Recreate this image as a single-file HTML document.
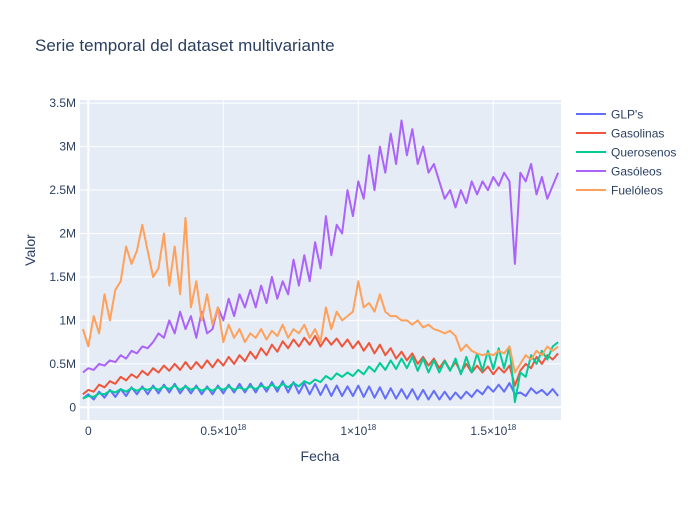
<!DOCTYPE html>
<html><head><meta charset="utf-8"><style>
body{margin:0;background:#fff;}
svg text{font-family:"Liberation Sans",Arial,sans-serif;fill:#2a3f5f;}
</style></head><body>
<svg id="chart" width="700" height="500" xmlns="http://www.w3.org/2000/svg">
<rect width="700" height="500" fill="#fff"/>
<text x="35" y="51" font-size="17">Serie temporal del dataset multivariante</text>
<rect x="80" y="100" width="481" height="320" fill="#e5ecf6"/>
<g id="grid"></g>
<g id="series"></g>
<g id="axes"></g>
<text x="320" y="461" font-size="14" text-anchor="middle">Fecha</text>
<text x="30" y="255" font-size="14" text-anchor="middle" transform="rotate(-90 30 250)">Valor</text>
<g id="legend"></g>
</svg>
<script>
const dates = [-2,0,2,4,6,8,10,12,14,16,18,20,22,24,26,28,30,32,34,36,38,40,42,44,46,48,50,52,54,56,58,60,62,64,66,68,70,72,74,76,78,80,82,84,86,88,90,92,94,96,98,100,102,104,106,108,110,112,114,116,118,120,122,124,126,128,130,132,134,136,138,140,142,144,146,148,150,152,154,156,158,160,162,164,166,168,170,172,174];
const glp = [100,150,90,180,110,200,120,210,130,230,150,240,150,250,160,260,170,270,160,250,160,250,150,240,150,250,160,260,170,270,170,270,170,280,180,290,180,300,170,290,160,280,150,270,140,260,130,250,130,240,130,250,120,240,110,230,100,220,100,210,100,210,90,200,90,190,90,180,90,170,100,180,120,200,150,240,180,260,180,280,150,170,130,220,160,200,140,210,130];
const gasolinas = [150,200,180,260,230,300,270,350,310,380,340,420,370,450,400,480,420,500,430,520,440,520,450,540,460,550,480,580,500,600,530,640,560,680,600,720,640,760,680,780,700,800,720,820,700,800,720,790,700,780,680,760,650,740,620,720,600,680,560,640,540,620,500,580,480,560,450,540,430,520,400,500,400,480,400,470,380,460,400,480,250,420,500,450,580,500,600,550,620];
const querosenos = [100,130,120,160,150,190,170,210,180,220,190,220,200,230,200,240,210,250,200,240,200,230,190,220,190,230,200,240,200,230,200,240,210,250,220,260,220,270,230,280,240,300,270,320,290,360,320,390,350,400,360,430,380,470,410,510,430,540,440,560,450,580,420,560,400,540,400,530,420,560,380,580,400,620,420,650,440,680,450,700,60,400,350,600,500,650,550,700,750];
const gasoleos = [400,450,430,500,480,540,520,600,560,650,620,700,680,750,850,800,1000,850,1100,900,1050,800,1100,850,900,1150,1000,1250,1050,1300,1150,1350,1150,1400,1200,1500,1250,1450,1300,1700,1400,1750,1450,1900,1600,2200,1750,2100,2000,2500,2200,2600,2400,2900,2500,3000,2700,3150,2800,3300,2900,3200,2800,3000,2700,2800,2600,2400,2500,2300,2500,2350,2600,2450,2600,2500,2650,2550,2700,2600,1650,2700,2600,2800,2450,2650,2400,2550,2700];
const fueloleos = [900,700,1050,850,1300,1000,1350,1450,1850,1650,1800,2100,1800,1500,1600,2000,1400,1850,1300,2180,1150,1450,1000,1300,950,1150,750,950,800,900,750,850,800,900,780,880,820,950,800,900,850,950,800,900,750,1150,900,1100,1000,1050,1100,1450,1150,1200,1100,1300,1100,1050,1050,1000,1000,950,1000,920,950,900,880,850,880,820,650,720,650,620,600,620,600,650,620,700,400,500,600,550,650,600,700,650,700];
const seriesNames = ["GLP's","Gasolinas","Querosenos","Gasóleos","Fuelóleos"];
const seriesColors = ["#636efa","#EF553B","#00cc96","#ab63fa","#FFA15A"];
const yTickVals = [0,500,1000,1500,2000,2500,3000,3500];
const yTickLabels = ["0","0.5M","1M","1.5M","2M","2.5M","3M","3.5M"];
const xTickVals = [0,50,100,150];
const xTickMant = ["0","0.5×10","1×10","1.5×10"];

const NS="http://www.w3.org/2000/svg";
const X0=88.3, XS=2.7;
const Y0=407.3, YS=0.0869;
const xs=v=>X0+v*XS, ys=v=>Y0-v*YS;
function mk(tag,attrs,parent){const e=document.createElementNS(NS,tag);for(const k in attrs)e.setAttribute(k,attrs[k]);parent.appendChild(e);return e;}
const grid=document.getElementById('grid'), axes=document.getElementById('axes');
yTickVals.forEach((v,i)=>{
  const l=mk('line',{x1:80,x2:561,y1:ys(v),y2:ys(v),stroke:'#fff','stroke-width':v===0?2:1},grid);
  
  
  const t=mk('text',{x:76,y:ys(v)+4,'font-size':12,'text-anchor':'end'},axes);
  t.textContent=yTickLabels[i];
  
  
});
xTickVals.forEach((v,i)=>{
  const l=mk('line',{x1:xs(v),x2:xs(v),y1:100,y2:420,stroke:'#fff','stroke-width':v===0?2:1},grid);
  
  
  const t=mk('text',{x:xs(v),y:435,'font-size':12,'text-anchor':'middle'},axes);
  
  
  t.appendChild(document.createTextNode(xTickMant[i]));
  if(i>0){const s=mk('tspan',{'font-size':8,dy:-5},t);s.textContent='18';}
});
const sg=document.getElementById('series');
[glp,gasolinas,querosenos,gasoleos,fueloleos].forEach((arr,k)=>{
  const d=arr.map((v,i)=>(i?'L':'M')+xs(dates[i]).toFixed(1)+','+ys(v).toFixed(1)).join('');
  const p=mk('path',{d:d,fill:'none',stroke:seriesColors[k],'stroke-width':2,'stroke-linejoin':'round'},sg);
  
  
});
const lg=document.getElementById('legend');
seriesNames.forEach((n,k)=>{
  const y=114+k*19;
  const g=mk('g',{},lg);
  
  
  mk('line',{x1:576,x2:606,y1:y,y2:y,stroke:seriesColors[k],'stroke-width':2},g);
  const t=mk('text',{x:611,y:y+4.5,'font-size':12},g);
  t.textContent=n;
});
</script>
</body></html>
